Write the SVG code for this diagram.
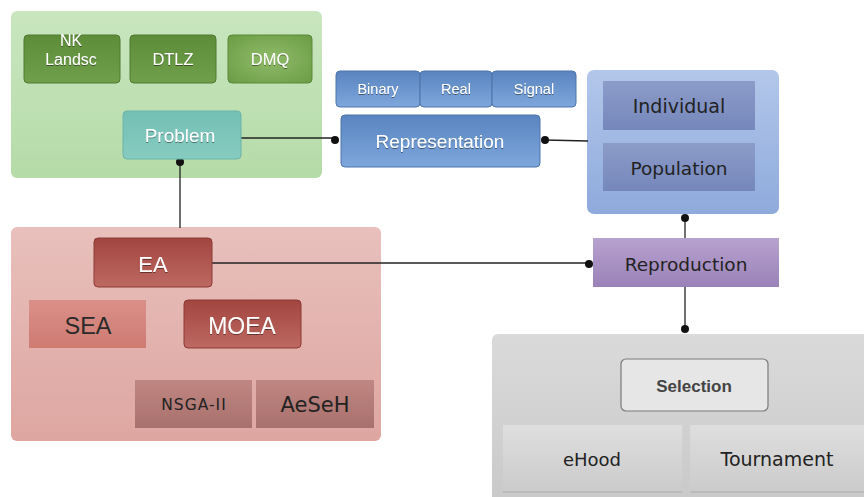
<svg xmlns="http://www.w3.org/2000/svg" width="864" height="497" viewBox="0 0 864 497">
<defs>
  <linearGradient id="gGreenBg" x1="0" y1="0" x2="0" y2="1"><stop offset="0" stop-color="#c9e6bf"/><stop offset="1" stop-color="#b5dba8"/></linearGradient>
  <linearGradient id="gGreen" x1="0" y1="0" x2="0" y2="1"><stop offset="0" stop-color="#5e8d3a"/><stop offset="1" stop-color="#6f9f4a"/></linearGradient>
  <radialGradient id="gGreenLight" cx="0.5" cy="0.5" r="0.7"><stop offset="0" stop-color="#8fbb68"/><stop offset="1" stop-color="#6c9c46"/></radialGradient>
  <linearGradient id="gTeal" x1="0" y1="0" x2="0" y2="1"><stop offset="0" stop-color="#74bfb4"/><stop offset="1" stop-color="#86cbc0"/></linearGradient>
  <linearGradient id="gBlue" x1="0" y1="0" x2="0" y2="1"><stop offset="0" stop-color="#5a84bf"/><stop offset="1" stop-color="#7da7dc"/></linearGradient>
  <linearGradient id="gBlueBg" x1="0" y1="0" x2="0" y2="1"><stop offset="0" stop-color="#b3c7ea"/><stop offset="1" stop-color="#8eaadc"/></linearGradient>
  <linearGradient id="gSlate" x1="0" y1="0" x2="0" y2="1"><stop offset="0" stop-color="#8c9cc9"/><stop offset="1" stop-color="#7587bb"/></linearGradient>
  <linearGradient id="gPurple" x1="0" y1="0" x2="0" y2="1"><stop offset="0" stop-color="#b8a2cf"/><stop offset="1" stop-color="#9a82b8"/></linearGradient>
  <linearGradient id="gRedBg" x1="0" y1="0" x2="0" y2="1"><stop offset="0" stop-color="#e8c0bc"/><stop offset="1" stop-color="#dea6a1"/></linearGradient>
  <linearGradient id="gRed" x1="0" y1="0" x2="0" y2="1"><stop offset="0" stop-color="#a2453f"/><stop offset="1" stop-color="#bd6962"/></linearGradient>
  <linearGradient id="gSea" x1="0" y1="0" x2="0" y2="1"><stop offset="0" stop-color="#d99088"/><stop offset="1" stop-color="#cf7b72"/></linearGradient>
  <linearGradient id="gRose" x1="0" y1="0" x2="0" y2="1"><stop offset="0" stop-color="#bf8682"/><stop offset="1" stop-color="#a9716d"/></linearGradient>
  <linearGradient id="gGrayBg" x1="0" y1="0" x2="0" y2="1"><stop offset="0" stop-color="#dadada"/><stop offset="1" stop-color="#c9c9c9"/></linearGradient>
  <linearGradient id="gGrayCell" x1="0" y1="0" x2="0" y2="1"><stop offset="0" stop-color="#dedede"/><stop offset="1" stop-color="#cbcbcb"/></linearGradient>
  <filter id="ts" x="-10%" y="-20%" width="120%" height="150%"><feDropShadow dx="0" dy="1" stdDeviation="0.6" flood-color="#000" flood-opacity="0.45"/></filter>
</defs>
<style>
  .lbl { font-family: "Liberation Sans", Arial, sans-serif; text-anchor: middle; dominant-baseline: central; }
  .w { fill: #ffffff; filter: url(#ts); }
  .dk { fill: #222; font-family: "DejaVu Sans", Verdana, sans-serif; }
  .edge { stroke: #222; stroke-width: 1.3; fill: none; }
  .dot { fill: #111; }
</style>

<!-- background panels -->
<g id="problemPanel"><rect x="11" y="11" width="311" height="167" rx="6" fill="url(#gGreenBg)"/></g>
<g id="eaPanel"><rect x="11" y="227" width="370" height="214" rx="6" fill="url(#gRedBg)"/></g>
<g id="popPanel"><rect x="587" y="70" width="192" height="144" rx="7" fill="url(#gBlueBg)"/></g>
<g id="selPanel"><rect x="492" y="334" width="380" height="170" rx="6" fill="url(#gGrayBg)"/></g>

<!-- connectors -->
<g id="connectors">
  <path class="edge" d="M241 138 H335"/>
  <path class="edge" d="M180 162 V228"/>
  <path class="edge" d="M545 140 L588 141"/>
  <path class="edge" d="M685 218 V238"/>
  <path class="edge" d="M205 263 H589"/>
  <path class="edge" d="M685 287 V329"/>
  <circle class="dot" cx="335" cy="140" r="4"/>
  <circle class="dot" cx="545" cy="140" r="4"/>
  <circle class="dot" cx="180" cy="162" r="4"/>
  <circle class="dot" cx="685" cy="218" r="4"/>
  <circle class="dot" cx="589" cy="264" r="4"/>
  <circle class="dot" cx="685" cy="329" r="4"/>
</g>

<!-- problem nodes -->
<g id="nkLandsc">
  <rect x="24" y="35" width="96" height="48" rx="4" fill="url(#gGreen)" stroke="#4f7a30" stroke-width="1"/>
  <text class="lbl w" x="71" y="40" font-size="16">NK</text>
  <text class="lbl w" x="71" y="59" font-size="16">Landsc</text>
</g>
<g id="dtlz">
  <rect x="130" y="35" width="86" height="48" rx="4" fill="url(#gGreen)" stroke="#4f7a30" stroke-width="1"/>
  <text class="lbl w" x="173" y="59" font-size="16.5">DTLZ</text>
</g>
<g id="dmq">
  <rect x="228" y="35" width="84" height="48" rx="4" fill="url(#gGreenLight)" stroke="#5a8a38" stroke-width="1"/>
  <text class="lbl w" x="270" y="59" font-size="16.5">DMQ</text>
</g>
<g id="problem">
  <rect x="123" y="111" width="118" height="48" rx="4" fill="url(#gTeal)" stroke="#6bb3a8" stroke-width="1"/>
  <text class="lbl w" x="180" y="135" font-size="19">Problem</text>
</g>

<!-- representation nodes -->
<g id="binary">
  <rect x="336" y="71" width="84" height="36" rx="4" fill="url(#gBlue)" stroke="#4d74aa" stroke-width="1"/>
  <text class="lbl w" x="378" y="89" font-size="14.5">Binary</text>
</g>
<g id="real">
  <rect x="420" y="71" width="72" height="36" rx="4" fill="url(#gBlue)" stroke="#4d74aa" stroke-width="1"/>
  <text class="lbl w" x="456" y="89" font-size="14.5">Real</text>
</g>
<g id="signal">
  <rect x="492" y="71" width="84" height="36" rx="4" fill="url(#gBlue)" stroke="#4d74aa" stroke-width="1"/>
  <text class="lbl w" x="534" y="89" font-size="14.5">Signal</text>
</g>
<g id="representation">
  <rect x="341" y="115" width="199" height="52" rx="4" fill="url(#gBlue)" stroke="#4d74aa" stroke-width="1"/>
  <text class="lbl w" x="440" y="141" font-size="19">Representation</text>
</g>

<!-- population nodes -->
<g id="individual">
  <rect x="603" y="81" width="152" height="49" fill="url(#gSlate)"/>
  <text class="lbl dk" x="679" y="106" font-size="19">Individual</text>
</g>
<g id="population">
  <rect x="603" y="143" width="152" height="48" fill="url(#gSlate)"/>
  <text class="lbl dk" x="679" y="168" font-size="18.5">Population</text>
</g>
<g id="reproduction">
  <rect x="593" y="238" width="186" height="49" fill="url(#gPurple)"/>
  <text class="lbl dk" x="686" y="264" font-size="18.5">Reproduction</text>
</g>

<!-- algorithm nodes -->
<g id="ea">
  <rect x="94" y="238" width="118" height="49" rx="4" fill="url(#gRed)" stroke="#8c3a35" stroke-width="1"/>
  <text class="lbl w" x="153" y="264" font-size="22">EA</text>
</g>
<g id="sea">
  <rect x="29" y="300" width="117" height="48" fill="url(#gSea)"/>
  <text class="lbl" x="88" y="326" font-size="23.5" fill="#2a2a2a">SEA</text>
</g>
<g id="moea">
  <rect x="184" y="300" width="117" height="48" rx="4" fill="url(#gRed)" stroke="#8c3a35" stroke-width="1"/>
  <text class="lbl w" x="242" y="326" font-size="23">MOEA</text>
</g>
<g id="nsga2">
  <rect x="135" y="380" width="117" height="48" fill="url(#gRose)"/>
  <text class="lbl dk" x="194" y="405" font-size="15.5" letter-spacing="1">NSGA-II</text>
</g>
<g id="aeseh">
  <rect x="256" y="380" width="118" height="48" fill="url(#gRose)"/>
  <text class="lbl dk" x="315" y="405" font-size="21">AeSeH</text>
</g>

<!-- selection nodes -->
<g id="selection">
  <rect x="621" y="359" width="147" height="52" rx="5" fill="#e6e6e6" stroke="#7a7a7a" stroke-width="1.2"/>
  <text class="lbl" x="694" y="386" font-size="17" font-weight="bold" fill="#444">Selection</text>
</g>
<g id="ehood">
  <rect x="503" y="425" width="179" height="67" fill="url(#gGrayCell)"/>
  <line x1="503" y1="492" x2="682" y2="492" stroke="#aaa" stroke-width="1"/>
  <text class="lbl dk" x="592" y="459" font-size="18">eHood</text>
</g>
<g id="tournament">
  <rect x="690" y="425" width="174" height="67" fill="url(#gGrayCell)"/>
  <line x1="690" y1="492" x2="864" y2="492" stroke="#aaa" stroke-width="1"/>
  <text class="lbl dk" x="777" y="459" font-size="19">Tournament</text>
</g>
</svg>
